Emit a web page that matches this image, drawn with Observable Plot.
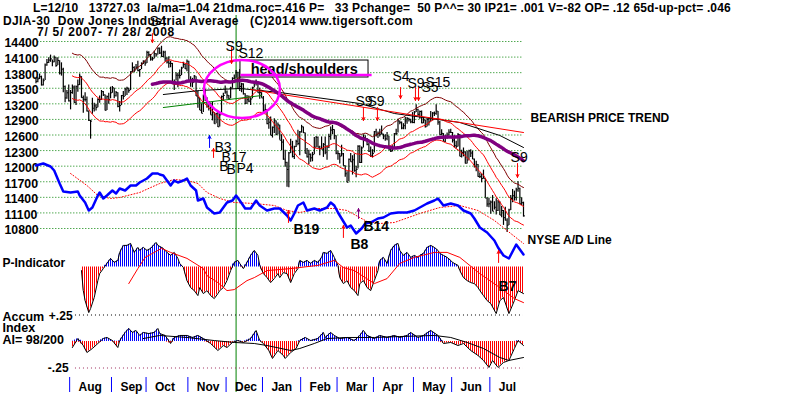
<!DOCTYPE html>
<html><head><meta charset="utf-8">
<script src="https://cdn.jsdelivr.net/npm/d3@7"></script>
<script src="https://cdn.jsdelivr.net/npm/@observablehq/plot@0.6"></script>
<style>
body{margin:0;background:#fff;}
#chart{position:relative;width:800px;height:395px;overflow:hidden;background:#fff;font-family:"Liberation Sans",Arial,sans-serif;}
.hdr{position:absolute;white-space:pre;font-weight:bold;font-size:12px;line-height:12px;color:#000;}
</style></head><body>
<div id="chart">
<svg width="0" height="0" style="position:absolute;left:0;top:0"><defs>
<pattern id="hatchRed" width="2" height="4" patternUnits="userSpaceOnUse"><rect width="1" height="4" fill="#ff0000"/></pattern>
<pattern id="hatchBlue" width="2" height="4" patternUnits="userSpaceOnUse"><rect width="1" height="4" fill="#0000ff"/></pattern>
</defs></svg>
</div>
<script>
// ---------- DATA ----------
const headerLines = [
  "L=12/10   13727.03  la/ma=1.04 21dma.roc=.416 P=   33 Pchange=  50 P^^= 30 IP21= .001 V=-82 OP= .12 65d-up-pct= .046",
  "DJIA-30  Dow Jones Industrial Average   (C)2014 www.tigersoft.com",
  "7/ 5/ 2007- 7/ 28/ 2008"
];
const monthNames = ["Aug","Sep","Oct","Nov","Dec","Jan","Feb","Mar","Apr","May","Jun","Jul"];
const monthStart = [19,42,61,84,105,125,146,166,186,208,229,250];
const priceTicks = [14400,14100,13800,13500,13200,12900,12600,12300,12000,11700,11400,11100,10800];
const lastSignalDay = 110; // 12/10/2007

const close = [
13565,13611,13649,13501,13577,13861,13907,13950,13971,13918,14000,13851,13943,13716,13785,13473,13265,13358,13212,
13362,13463,13182,13468,13504,13658,13271,13240,13236,13029,12861,12846,13079,13121,13091,13236,13236,13379,13322,13042,13289,13239,13358,
13449,13306,13364,13113,13127,13308,13292,13425,13442,13403,13739,13816,13767,13821,13759,13779,13878,13913,13896,
14088,14047,13968,13974,14066,14044,14165,14078,14015,14093,13985,13913,13893,13889,13522,13567,13676,13676,13671,13807,13871,13792,13930,
13567,13595,13543,13660,13300,13267,13043,12988,13307,13231,13111,13177,12958,13010,12799,12981,12743,12959,13289,13311,13372,
13315,13249,13445,13620,13625,13727,13433,13474,13518,13340,13168,13233,13207,13246,13451,13550,13551,13359,13366,13265,
13044,13057,12800,12827,12589,12735,12853,12606,12778,12501,12467,12159,12099,11971,12270,12378,12207,12384,12480,12442,12650,
12743,12635,12265,12200,12248,12182,12240,12374,12552,12376,12348,12338,12427,12284,12381,12570,12684,12694,12582,12266,
12258,12213,12254,12040,11894,11740,12156,12110,12146,11951,11972,12392,12099,12361,12548,12533,12422,12302,12216,12263,
12654,12605,12626,12609,12612,12577,12527,12581,12326,12302,12362,12619,12620,12849,12825,12721,12763,12849,12891,12872,12832,12820,
13010,13058,12969,13020,12814,12866,12745,12876,12832,12898,12992,12986,13028,12828,12601,12625,12480,12548,12590,12646,12638,
12503,12402,12390,12604,12210,12280,12289,12084,12141,12307,12269,12160,12029,12063,11843,11842,11807,11812,11453,11347,11350,
11382,11216,11288,11231,11384,11147,11229,11100,11055,10963,11239,11446,11496,11467,11603,11632,11349,11370,11132];
const high = [
13620,13640,13700,13660,13610,13880,13960,13990,14040,13950,14022,13990,13990,13940,13900,13800,13480,13400,13500,
13400,13500,13480,13480,13590,13700,13650,13300,13360,13280,13030,12860,13260,13170,13150,13250,13300,13400,13380,13320,13300,13350,13460,
13470,13440,13380,13360,13200,13310,13380,13440,13460,13440,13740,13900,13830,13870,13930,13780,13900,13940,13940,
14110,14100,14050,14000,14110,14070,14170,14170,14200,14110,14110,13990,14010,13930,13890,13590,13720,13710,13770,13820,13910,13880,13950,
13930,13650,13620,13670,13650,13380,13260,13160,13320,13420,13270,13200,13170,13190,13000,12990,13020,12990,13300,13350,13480,
13390,13310,13460,13630,13680,13760,13730,13780,13530,13520,13340,13310,13300,13270,13460,13560,13590,13550,13440,13360,
13290,13140,13050,12900,12920,12740,12890,12850,12810,12770,12600,12510,12320,12100,12280,12520,12480,12390,12500,12680,12660,
12770,12740,12630,12350,12320,12250,12280,12550,12570,12560,12390,12560,12440,12560,12400,12610,12740,12770,12690,12580,
12300,12260,12410,12260,12040,11930,12160,12260,12220,12250,12030,12400,12400,12380,12600,12580,12530,12440,12380,12330,
12660,12700,12650,12700,12760,12610,12600,12640,12570,12380,12400,12620,12700,12880,12850,12830,12800,12910,12910,12900,12880,13000,
13020,13140,13060,13030,13030,12900,12860,12890,12900,13020,13000,13010,13140,13020,12840,12690,12620,12590,12630,12690,12700,
12640,12580,12480,12620,12600,12320,12360,12290,12300,12320,12330,12300,12160,12120,12060,11910,11890,11960,11810,11460,11450,
11400,11500,11390,11440,11410,11390,11300,11230,11290,11080,11250,11500,11610,11580,11630,11750,11630,11460,11380];
const low = [
13520,13540,13600,13480,13480,13580,13840,13890,13910,13830,13900,13820,13850,13680,13660,13360,13180,13240,13190,
13050,13330,13170,13130,13370,13490,13260,12990,13190,13010,12840,12520,12970,13010,13030,13090,13170,13220,13290,13030,13040,13150,13250,
13350,13250,13280,13090,13010,13130,13230,13290,13310,13350,13400,13720,13720,13770,13740,13640,13780,13870,13840,
13890,14010,13930,13930,13970,14000,14040,14050,14000,13990,13910,13880,13800,13810,13520,13400,13570,13450,13610,13670,13800,13780,13740,
13540,13460,13450,13540,13290,13080,13040,12980,13000,13200,13080,13030,12950,12850,12790,12800,12730,12740,12960,13200,13330,
13240,13220,13250,13440,13590,13620,13420,13380,13360,13320,13140,13150,13180,13130,13250,13450,13480,13350,13240,13260,
12980,12980,12780,12700,12580,12540,12620,12580,12600,12500,12310,12140,12010,11650,11640,12260,12180,12150,12370,12400,12220,
12630,12620,12250,12180,12060,12100,12110,12240,12360,12360,12220,12330,12190,12240,12140,12350,12500,12600,12510,12240,
12140,12070,12200,12030,11830,11730,11750,12100,11870,11920,11820,11980,12080,12080,12360,12480,12400,12280,12190,12180,
12270,12560,12530,12560,12600,12510,12480,12490,12320,12280,12290,12370,12580,12630,12780,12690,12690,12690,12790,12830,12800,12800,
12800,13000,12930,12880,12800,12800,12720,12740,12760,12830,12850,12930,12950,12770,12590,12580,12470,12460,12520,12580,12620,
12450,12360,12340,12380,12200,12180,12200,12070,12070,12140,12190,12150,12000,11930,11830,11810,11730,11800,11450,11290,11280,
11160,11210,11240,11150,11210,11140,11100,10960,11040,10830,10960,11230,11370,11400,11400,11560,11340,11320,11110];

// trend lines (trading-day index, DJIA value)
const blackLineDay = [70,90,112,134,178,197,233,255,268];
const blackLineVal = [13327,13400,13436,13364,13165,12984,12821,12586,12369];
const redTrendDay = [118,268];
const redTrendVal = [13418,12640];
const greenLineDay = [70,124];
const greenLineVal = [13092,13309];

// NYSE A/D line
const adDay = [0,4,8,10,13,15,19,23,24,27,29,31,34,35,37,39,42,44,46,49,52,55,57,61,64,67,68,70,72,74,76,78,81,83,85,88,89,92,94,98,101,105,108,110,112,115,118,121,123,127,131,134,138,140,142,144,147,149,153,156,160,162,164,166,168,171,173,176,179,181,184,188,191,195,199,204,208,211,215,219,221,224,228,232,235,239,241,244,248,252,254,257,260,264,268];
const adVal = [2500,2700,2400,2000,700,-100,-200,-100,-500,-1200,-2000,-1700,-500,-200,-800,-500,0,-300,200,0,500,500,800,1200,1700,1700,1600,1500,1000,500,1000,800,1000,1200,500,0,-1000,-800,-1700,-2300,-2200,-1200,-1000,-500,-1000,-1800,-1800,-1000,-1500,-2000,-1800,-1800,-2500,-3000,-2300,-1500,-1200,-2000,-1800,-2000,-1700,-1200,-1500,-2200,-2800,-3700,-3500,-4300,-3800,-3300,-3200,-2800,-2700,-2300,-2200,-2200,-2000,-1700,-1300,-1000,-800,-1500,-1300,-1500,-2000,-2300,-2800,-3700,-4200,-5000,-5700,-6500,-6800,-5400,-6400];
const adMaDay = [19,28,34,41,46,57,68,76,83,89,94,101,109,120,131,138,145,155,164,171,177,182,189,197,211,222,233,243,252,261,268];
const adMaVal = [1700,500,-500,-800,-700,-200,700,1100,1000,700,-200,-800,-1200,-1300,-1500,-2000,-2200,-1800,-1800,-2000,-2600,-3100,-3300,-3200,-2300,-1700,-1500,-2000,-3000,-4300,-5300];

// P-Indicator
const pDay = [25,26,27,29,30,32,34,35,37,39,41,43,45,46,48,50,52,54,56,57,59,61,63,66,67,70,72,74,76,78,79,81,83,85,87,89,90,92,94,96,98,100,101,103,105,107,109,111,112,114,116,118,120,122,123,125,127,129,131,133,134,136,138,140,142,144,145,147,149,151,153,155,157,158,160,162,164,166,167,169,171,173,175,177,178,180,182,184,186,188,189,191,193,195,197,199,200,202,204,206,208,210,211,213,215,217,219,221,222,224,226,228,229,232,233,235,237,239,241,243,244,246,248,250,253,255,257,260,263,265,268];
const pVal = [-18,-118,-168,-228,-208,-153,-68,-33,-8,18,43,23,33,73,108,108,118,73,98,83,98,83,93,123,108,93,73,58,73,43,18,-2,-68,-103,-118,-143,-103,-133,-118,-143,-158,-133,-118,-103,-68,-18,23,33,18,-8,23,58,83,58,8,-33,-53,-78,-58,-33,-53,-28,-33,-78,-33,-8,33,23,33,18,33,23,48,73,68,83,48,8,-53,-83,-68,-103,-118,-143,-83,-68,-103,-118,-68,-18,33,48,18,83,108,118,83,58,73,48,58,48,58,68,98,108,98,83,68,58,48,33,23,8,-18,-53,-68,-78,-83,-103,-118,-143,-168,-183,-233,-168,-153,-233,-168,-118,-133];
const pMaDay = [51,56,60,69,74,83,92,94,100,105,109,116,120,127,140,155,164,169,175,186,193,200,208,219,226,233,244,255,263,268];
const pMaVal = [-83,-8,48,93,73,43,-8,-43,-78,-118,-113,-68,-53,-18,-8,8,33,-3,-18,-83,-58,18,48,73,73,48,-33,-103,-158,-178];

// Accumulation Index
const aiDay = [20,23,26,28,31,34,37,39,42,45,46,49,51,53,55,57,59,62,65,67,68,71,74,76,79,83,86,89,92,96,100,103,105,108,111,114,118,121,123,125,128,130,133,136,137,140,143,145,148,151,155,158,159,162,164,167,171,175,178,180,182,186,189,193,197,200,204,206,210,213,217,221,224,228,232,235,239,243,246,249,251,254,257,260,263,265,268];
const aiVal = [-.057,.028,-.038,-.104,-.066,-.019,.028,.038,.009,-.057,.009,.085,.123,.085,.104,.057,.085,.075,.085,.123,.075,.057,-.019,.038,.057,.057,.038,.057,.028,-.019,-.085,-.038,-.057,-.009,.009,-.009,.028,.104,.009,-.019,-.085,-.160,-.085,-.132,-.160,-.104,-.066,.009,.038,.009,.028,.085,.038,.085,.057,.028,.038,.009,.057,.104,.057,.028,.057,.038,.057,.038,.057,.085,.038,.057,.104,.057,-.019,-.009,-.038,-.019,-.085,-.132,-.179,-.245,-.179,-.245,-.198,-.179,-.066,.009,-.038];
const aiMaDay = [59,68,83,98,109,120,127,140,145,153,160,171,186,200,219,228,237,246,255,260,268];
const aiMaVal = [.028,.057,.038,.009,-.009,-.019,-.038,-.085,-.066,-.019,.028,.038,.038,.047,.057,.038,-.009,-.066,-.151,-.179,-.151];

// signals
const sellLabels = [
  {label:"S4", day:62.4, y:14575}, {label:"S9", day:104.2, y:14123}, {label:"S12", day:111.3, y:13996},
  {label:"S9", day:175.6, y:13111}, {label:"S9", day:182.2, y:13111}, {label:"S4", day:196, y:13563},
  {label:"S9", day:204.2, y:13454}, {label:"S15", day:214.1, y:13472}, {label:"S5", day:211.9, y:13364},
  {label:"S9", day:260.9, y:12098}];
const sellArrows = [
  {day:64, from:14430, to:14268}, {day:107.5, from:14177, to:13888}, {day:180, from:13092, to:12857},
  {day:187.7, from:13092, to:12857}, {day:200.4, from:13454, to:13255}, {day:208.6, from:13454, to:13219},
  {day:210.3, from:13454, to:13219}, {day:264.7, from:12080, to:11827}];
const priceBuyLabels = [
  {label:"B3", day:98.1, y:12279}, {label:"B17", day:102, y:12098}, {label:"B", day:100.7, y:11935},
  {label:"B", day:104.7, y:11881}, {label:"P4", day:110.2, y:11899}];
const priceBuyBlue = [{day:95.4, from:12369, to:12586}];
const priceBuyRed = [{day:97.6, from:12188, to:12351}];
const adBuyLabels = [{label:"B19", day:141.6, y:-4300}, {label:"B8", day:172.9, y:-5800}, {label:"B14", day:180, y:-4000}];
const adBuyRed = [{day:138.8, from:-3200, to:-2000}, {day:169, from:-4700, to:-3500}, {day:254.3, from:-7200, to:-6000}];
const adBuyPurple = [{day:177.3, from:-2800, to:-1800}];
const pBuyLabels = [{label:"B7", day:254.3, y:-117.5}];

const headShoulders = {label:"head/shoulders", boxDay1:112.4, boxDay2:182.8, boxTop:13942, boxBottom:13635, textDay:118, textY:13707, lineDay2:184.5, lineY:13680};
const ellipseCenters = [{day:113.5, value:13418}];

// ---------- BUILD ----------
const days = close.map((c, i) => ({i, c, h: high[i], l: low[i]}));
if (high.length !== close.length || low.length !== close.length) console.error("length mismatch", close.length, high.length, low.length);
const zipDV = (d, v) => d.map((x, k) => ({i: x, v: v[k]}));
const ad = zipDV(adDay, adVal), adMa = zipDV(adMaDay, adMaVal);
const pInd = zipDV(pDay, pVal), pMa = zipDV(pMaDay, pMaVal);
const ai = zipDV(aiDay, aiVal), aiMa = zipDV(aiMaDay, aiMaVal);
const blackLine = zipDV(blackLineDay, blackLineVal), redTrend = zipDV(redTrendDay, redTrendVal), greenLine = zipDV(greenLineDay, greenLineVal);

const FONT = '"Liberation Sans", Arial, sans-serif';
const W = 800, H = 395;
const X = {domain: [0, 268], range: [35.5, 523], axis: null};
const baseStyle = {position: "absolute", left: "0px", top: "0px", background: "transparent", overflow: "visible", fontFamily: FONT, fontSize: "12px", color: "black"};
function layer(y, marks, extra = {}) {
  const opts = Object.assign({width: W, height: H, margin: 0, x: X, style: baseStyle, marks}, extra);
  if (y) opts.y = Object.assign({axis: null}, y);
  return Plot.plot(opts);
}
const chart = document.getElementById("chart");
const add = (svg) => chart.appendChild(svg);

// 1. grid and price labels (chart units)
add(layer({domain: [10800, 14400], range: [228, 41]}, [
  Plot.ruleY(priceTicks, {y: d => d, x1: 1, x2: 268, stroke: "#008000", strokeDasharray: "1,2", strokeWidth: 1}),
  Plot.text(priceTicks, {y: d => d, text: d => String(d), frameAnchor: "left", textAnchor: "start", dx: 4, dy: 2, fontWeight: "bold", fontSize: 12.3, fill: "black"})
]));

// 2. vertical marker line at last signal day
add(layer(null, [Plot.ruleX([lastSignalDay], {x: d => d, stroke: "#008000", strokeWidth: 1})], {marginTop: 15, marginBottom: 3}));

// 3. price bars, bands, averages, annotations (DJIA units)
const ellipseMark = (...args) => {
  const s = args.find(a => a && !Array.isArray(a) && typeof a.x === "function" && typeof a.y === "function");
  if (!s) return null;
  const g = d3.create("svg:g");
  for (const e of ellipseCenters) g.append("ellipse").attr("cx", s.x(e.day)).attr("cy", s.y(e.value)).attr("rx", 38).attr("ry", 29)
    .attr("fill", "none").attr("stroke", "#ff00ff").attr("stroke-width", 2.5);
  return g.node();
};
add(layer({domain: [10904, 14286], range: [228, 41]}, [
  Plot.ruleX(days, {x: "i", y1: "l", y2: "h", stroke: "black", strokeWidth: 1.2}),
  Plot.link(days, {x1: "i", x2: d => d.i + 0.8, y1: "c", y2: "c", stroke: "black", strokeWidth: 1}),
  Plot.lineY(days, Plot.windowY({k: 21, anchor: "end", strict: true, reduce: v => d3.mean(v) * 1.03}, {x: "i", y: "c", stroke: "#800000", strokeWidth: 1})),
  Plot.lineY(days, Plot.windowY({k: 21, anchor: "end", strict: true, reduce: "mean"}, {x: "i", y: "c", stroke: "#ff0000", strokeWidth: 1})),
  Plot.lineY(days, Plot.windowY({k: 21, anchor: "end", strict: true, reduce: v => d3.mean(v) * 0.97}, {x: "i", y: "c", stroke: "#ff0000", strokeWidth: 1})),
  Plot.line(greenLine, {x: "i", y: "v", stroke: "#008000", strokeWidth: 1}),
  Plot.line(blackLine, {x: "i", y: "v", stroke: "black", strokeWidth: 1}),
  Plot.line(redTrend, {x: "i", y: "v", stroke: "#ff0000", strokeWidth: 1}),
  Plot.lineY(days, Plot.windowY({k: 65, anchor: "end", strict: true, reduce: "mean"}, {x: "i", y: "c", stroke: "#800080", strokeWidth: 3.5})),
  Plot.rect([headShoulders], {x1: "boxDay1", x2: "boxDay2", y1: "boxTop", y2: "boxBottom", fill: "white", stroke: "black", strokeWidth: 1}),
  Plot.text([headShoulders], {x: "textDay", y: "textY", text: "label", textAnchor: "start", lineAnchor: "bottom", fontSize: 14.5, fontWeight: "bold", fill: "black"}),
  Plot.link([headShoulders], {x1: "boxDay1", x2: "lineDay2", y1: "lineY", y2: "lineY", stroke: "#ff00ff", strokeWidth: 2.5}),
  ellipseMark,
  Plot.arrow(sellArrows, {x1: "day", x2: "day", y1: "from", y2: "to", stroke: "#ff0000", strokeWidth: 1, headLength: 5, headAngle: 50}),
  Plot.arrow(priceBuyBlue, {x1: "day", x2: "day", y1: "from", y2: "to", stroke: "#0000ff", strokeWidth: 1, headLength: 5, headAngle: 50}),
  Plot.arrow(priceBuyRed, {x1: "day", x2: "day", y1: "from", y2: "to", stroke: "#ff0000", strokeWidth: 1, headLength: 5, headAngle: 50}),
  Plot.text(sellLabels, {x: "day", y: "y", text: "label", textAnchor: "start", lineAnchor: "bottom", fontSize: 14, fill: "black"}),
  Plot.text(priceBuyLabels, {x: "day", y: "y", text: "label", textAnchor: "start", lineAnchor: "bottom", fontSize: 14, fill: "black"}),
  Plot.text(["BEARISH PRICE TREND"], {x: 271.9, y: 12839, text: d => d, textAnchor: "start", lineAnchor: "bottom", fontSize: 12, fontWeight: "bold", fill: "black"})
]));

// 4. NYSE A/D line
add(layer({domain: [-7000, 3000], range: [260, 160]}, [
  Plot.line(adMa, {x: "i", y: "v", stroke: "#ff0000", strokeWidth: 1, strokeDasharray: "1,2"}),
  Plot.line(ad, {x: "i", y: "v", stroke: "#0000ff", strokeWidth: 2.5}),
  Plot.arrow(adBuyRed, {x1: "day", x2: "day", y1: "from", y2: "to", stroke: "#ff0000", strokeWidth: 1, headLength: 5, headAngle: 50}),
  Plot.arrow(adBuyPurple, {x1: "day", x2: "day", y1: "from", y2: "to", stroke: "#800080", strokeWidth: 1, headLength: 5, headAngle: 50}),
  Plot.text(adBuyLabels, {x: "day", y: "y", text: "label", textAnchor: "start", lineAnchor: "bottom", fontSize: 14, fontWeight: "bold", fill: "black"}),
  Plot.text(["NYSE A/D Line"], {x: 270.2, y: -5300, text: d => d, textAnchor: "start", lineAnchor: "bottom", fontSize: 12, fontWeight: "bold", fill: "black"})
]));

// 5. P-Indicator
add(layer({domain: [-250, 150], range: [316.5, 236.5]}, [
  Plot.areaY(pInd, {x: "i", y1: 0, y2: d => Math.max(0, d.v), fill: "url(#hatchBlue)"}),
  Plot.areaY(pInd, {x: "i", y1: 0, y2: d => Math.min(0, d.v), fill: "url(#hatchRed)"}),
  Plot.line(pInd, {x: "i", y: "v", stroke: "black", strokeWidth: 1}),
  Plot.line(pMa, {x: "i", y: "v", stroke: "#ff0000", strokeWidth: 1}),
  Plot.text(pBuyLabels, {x: "day", y: "y", text: "label", textAnchor: "start", lineAnchor: "bottom", fontSize: 14, fontWeight: "bold", fill: "black"}),
  Plot.text(["P-Indicator"], {y: 0, text: d => d, frameAnchor: "left", textAnchor: "start", lineAnchor: "bottom", dx: 2, fontSize: 12, fontWeight: "bold", fill: "black"})
]));

// 6. Accumulation Index
add(layer({domain: [-0.25, 0.25], range: [367.5, 314.5]}, [
  Plot.ruleY([0.25], {y: d => d, x1: 21.7, x2: 268, stroke: "black", strokeDasharray: "1,3"}),
  Plot.ruleY([-0.25], {y: d => d, x1: 21.7, x2: 268, stroke: "#a03060", strokeDasharray: "1,3"}),
  Plot.areaY(ai, {x: "i", y1: 0, y2: d => Math.max(0, d.v), fill: "url(#hatchBlue)"}),
  Plot.areaY(ai, {x: "i", y1: 0, y2: d => Math.min(0, d.v), fill: "url(#hatchRed)"}),
  Plot.line(ai, {x: "i", y: "v", stroke: "black", strokeWidth: 1}),
  Plot.line(aiMa, {x: "i", y: "v", stroke: "black", strokeWidth: 1}),
  Plot.text(["+.25"], {x: 20.1, y: 0.25, text: d => d, textAnchor: "end", dy: 1, fontSize: 12, fontWeight: "bold", fill: "black"}),
  Plot.text(["-.25"], {x: 17.9, y: -0.25, text: d => d, textAnchor: "end", fontSize: 12, fontWeight: "bold", fill: "black"}),
  Plot.text(["Accum\nIndex\nAI= 98/200"], {y: -0.019, text: d => d, frameAnchor: "left", textAnchor: "start", lineAnchor: "bottom", lineHeight: 0.9, dx: 2, fontSize: 12.5, fontWeight: "bold", fill: "black"})
]));

// 7. month axis
add(layer(null, [
  Plot.ruleX(monthStart, {x: d => d - 0.5, stroke: "#0000ff", strokeWidth: 1}),
  Plot.text(monthNames, {x: (d, k) => monthStart[k], text: d => d, frameAnchor: "bottom", textAnchor: "start", lineAnchor: "bottom", dx: 8, dy: -2, fontSize: 12, fontWeight: "bold", fill: "black"})
], {marginTop: 377, marginBottom: 3}));

// header text
const hdrPos = [[33, 2, 0.15], [3, 15, 0.38], [37, 26, 0.75]];
headerLines.forEach((t, k) => {
  const d = document.createElement("div");
  d.className = "hdr"; d.textContent = t;
  d.style.left = hdrPos[k][0] + "px"; d.style.top = hdrPos[k][1] + "px";
  d.style.letterSpacing = hdrPos[k][2] + "px";
  chart.appendChild(d);
});
</script>
</body></html>
